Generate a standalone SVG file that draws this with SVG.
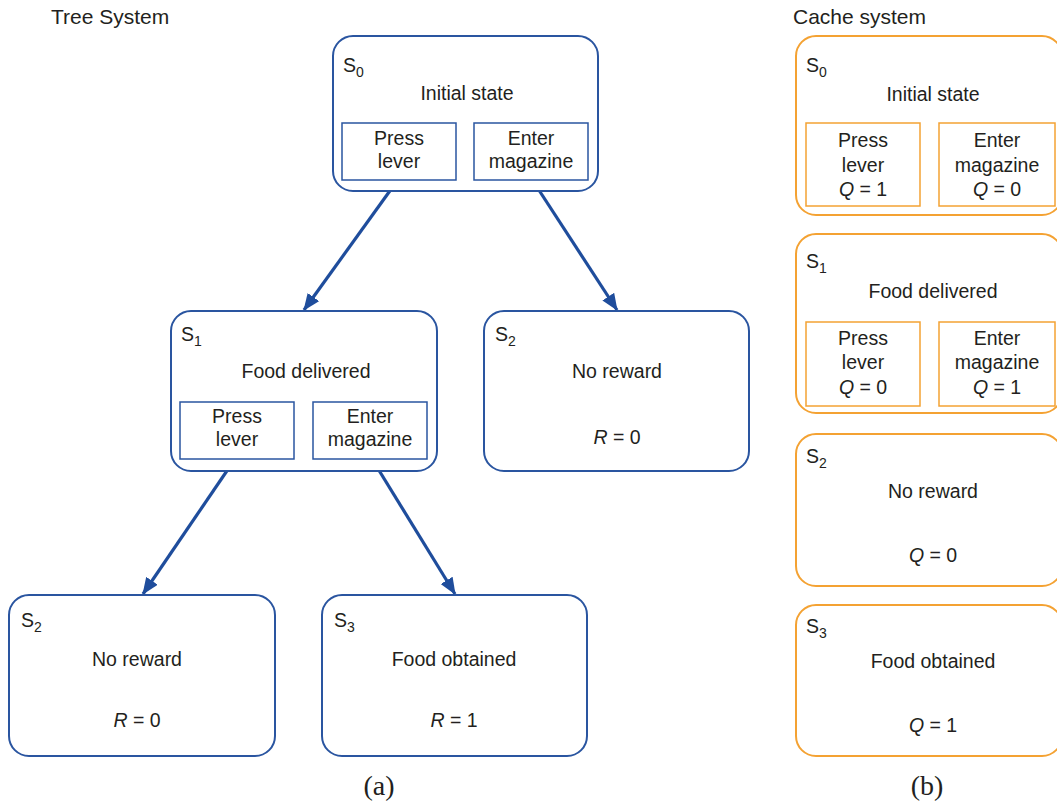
<svg xmlns="http://www.w3.org/2000/svg" width="1057" height="807" viewBox="0 0 1057 807">
<style>
text{font-family:"Liberation Sans",Arial,sans-serif;font-size:19.5px;fill:#231f20}
.c{text-anchor:middle}
.title{font-size:21px}
.cap{font-family:"Liberation Serif","Times New Roman",serif;font-size:28px;text-anchor:middle}
.sub{font-size:14px}
.tb{fill:#fff;stroke:#2a55a0;stroke-width:2}
.ti{fill:none;stroke:#2a55a0;stroke-width:1.5}
.cb{fill:#fff;stroke:#f4a233;stroke-width:2}
.ci{fill:none;stroke:#f4a233;stroke-width:1.5}
.arr{stroke:#1f4d9c;stroke-width:3.2;fill:none;marker-end:url(#ah)}
</style>
<defs>
<marker id="ah" markerUnits="userSpaceOnUse" markerWidth="18" markerHeight="14" refX="16" refY="7" orient="auto">
<path d="M0,0 L17,7 L0,14 z" fill="#1f4d9c"/>
</marker>
</defs>
<rect width="1057" height="807" fill="#fff"/>
<text class="title" x="51" y="24">Tree System</text>
<text class="title" x="793" y="24">Cache system</text>

<g id="connectors">
<line class="arr" x1="397" y1="181" x2="304" y2="310"/>
<line class="arr" x1="533" y1="181" x2="617" y2="310"/>
<line class="arr" x1="235" y1="459" x2="143" y2="594"/>
<line class="arr" x1="372" y1="459" x2="455" y2="594"/>
</g>

<g id="tree-s0">
<rect class="tb" x="333" y="36" width="265" height="155" rx="20"/>
<text x="343" y="72">S<tspan class="sub" dy="5">0</tspan></text>
<text class="c" x="467" y="100">Initial state</text>
<rect class="ti" x="342" y="123" width="114" height="57"/>
<text class="c" x="399" y="145">Press</text>
<text class="c" x="399" y="168">lever</text>
<rect class="ti" x="474" y="123" width="114" height="57"/>
<text class="c" x="531" y="145">Enter</text>
<text class="c" x="531" y="168">magazine</text>
</g>

<g id="tree-s1">
<rect class="tb" x="171" y="311" width="266" height="160" rx="20"/>
<text x="181" y="341">S<tspan class="sub" dy="5">1</tspan></text>
<text class="c" x="306" y="378">Food delivered</text>
<rect class="ti" x="180" y="402" width="114" height="57"/>
<text class="c" x="237" y="423">Press</text>
<text class="c" x="237" y="446">lever</text>
<rect class="ti" x="313" y="402" width="114" height="57"/>
<text class="c" x="370" y="423">Enter</text>
<text class="c" x="370" y="446">magazine</text>
</g>

<g id="tree-s2-right">
<rect class="tb" x="484" y="311" width="265" height="160" rx="20"/>
<text x="495" y="341">S<tspan class="sub" dy="5">2</tspan></text>
<text class="c" x="617" y="378">No reward</text>
<text class="c" x="617" y="444"><tspan font-style="italic">R</tspan> = 0</text>
</g>

<g id="tree-s2-left">
<rect class="tb" x="9" y="595" width="266" height="161" rx="20"/>
<text x="21" y="627">S<tspan class="sub" dy="5">2</tspan></text>
<text class="c" x="137" y="666">No reward</text>
<text class="c" x="137" y="727"><tspan font-style="italic">R</tspan> = 0</text>
</g>

<g id="tree-s3">
<rect class="tb" x="322" y="595" width="265" height="161" rx="20"/>
<text x="334" y="627">S<tspan class="sub" dy="5">3</tspan></text>
<text class="c" x="454" y="666">Food obtained</text>
<text class="c" x="454" y="727"><tspan font-style="italic">R</tspan> = 1</text>
</g>

<g id="cache-s0">
<rect class="cb" x="796" y="36" width="266" height="179" rx="20"/>
<text x="806" y="72">S<tspan class="sub" dy="5">0</tspan></text>
<text class="c" x="933" y="101">Initial state</text>
<rect class="ci" x="806" y="123" width="114" height="83"/>
<text class="c" x="863" y="147">Press</text>
<text class="c" x="863" y="172">lever</text>
<text class="c" x="863" y="196"><tspan font-style="italic">Q</tspan> = 1</text>
<rect class="ci" x="939" y="123" width="116" height="83"/>
<text class="c" x="997" y="147">Enter</text>
<text class="c" x="997" y="172">magazine</text>
<text class="c" x="997" y="196"><tspan font-style="italic">Q</tspan> = 0</text>
</g>

<g id="cache-s1">
<rect class="cb" x="796" y="234" width="266" height="179" rx="20"/>
<text x="806" y="268">S<tspan class="sub" dy="5">1</tspan></text>
<text class="c" x="933" y="298">Food delivered</text>
<rect class="ci" x="806" y="322" width="114" height="84"/>
<text class="c" x="863" y="345">Press</text>
<text class="c" x="863" y="369">lever</text>
<text class="c" x="863" y="394"><tspan font-style="italic">Q</tspan> = 0</text>
<rect class="ci" x="939" y="322" width="116" height="84"/>
<text class="c" x="997" y="345">Enter</text>
<text class="c" x="997" y="369">magazine</text>
<text class="c" x="997" y="394"><tspan font-style="italic">Q</tspan> = 1</text>
</g>

<g id="cache-s2">
<rect class="cb" x="796" y="434" width="266" height="152" rx="20"/>
<text x="806" y="463">S<tspan class="sub" dy="5">2</tspan></text>
<text class="c" x="933" y="498">No reward</text>
<text class="c" x="933" y="562"><tspan font-style="italic">Q</tspan> = 0</text>
</g>

<g id="cache-s3">
<rect class="cb" x="796" y="605" width="266" height="151" rx="20"/>
<text x="806" y="633">S<tspan class="sub" dy="5">3</tspan></text>
<text class="c" x="933" y="668">Food obtained</text>
<text class="c" x="933" y="732"><tspan font-style="italic">Q</tspan> = 1</text>
</g>

<text class="cap" x="379" y="795">(a)</text>
<text class="cap" x="927" y="795">(b)</text>
</svg>
